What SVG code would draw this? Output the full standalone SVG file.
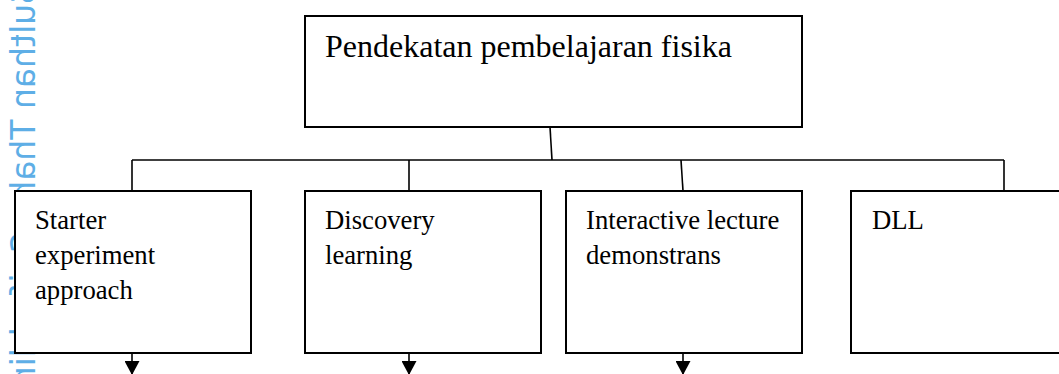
<svg xmlns="http://www.w3.org/2000/svg" width="1059" height="374" viewBox="0 0 1059 374">
  <style>
    .box { fill: #ffffff; stroke: #000000; stroke-width: 2; }
    .conn { fill: none; stroke: #000000; stroke-width: 1.6; }
    .lbl { font-family: "Liberation Serif", "Times New Roman", serif; font-size: 26.7px; fill: #000000; }
    .title { font-family: "Liberation Serif", "Times New Roman", serif; font-size: 32px; fill: #000000; }
    .wm { font-family: "DejaVu Sans", sans-serif; font-size: 33px; fill: #5eaee6; }
  </style>
  <defs>
    <marker id="arrow" markerUnits="userSpaceOnUse" viewBox="0 0 14 15" refX="14" refY="7.5" markerWidth="14" markerHeight="15" orient="auto">
      <path d="M0,0 L14,7.5 L0,15 Z" fill="#000000"/>
    </marker>
  </defs>
  <rect x="0" y="0" width="1059" height="374" fill="#ffffff"/>
  <g id="watermark">
    <text class="wm" transform="matrix(0,1,1,0,35,-17)">Sulthan Thaha Saifuddin</text>
  </g>
  <g id="connectors">
    <path class="conn" d="M550,127 L552,160"/>
    <path class="conn" d="M132,160 L1004,160"/>
    <path class="conn" d="M132,160 L132,191"/>
    <path class="conn" d="M409,160 L409,191"/>
    <path class="conn" d="M681,160 L683,191"/>
    <path class="conn" d="M1004,160 L1004,191"/>
    <line class="conn" x1="132" y1="353" x2="132" y2="375" marker-end="url(#arrow)"/>
    <line class="conn" x1="409" y1="353" x2="409" y2="375" marker-end="url(#arrow)"/>
    <line class="conn" x1="683" y1="353" x2="683" y2="375" marker-end="url(#arrow)"/>
  </g>
  <g id="node-root">
    <rect class="box" x="305" y="16" width="497" height="111"/>
    <text class="title" x="325" y="57">Pendekatan pembelajaran fisika</text>
  </g>
  <g id="node-starter">
    <rect class="box" x="15" y="191" width="236" height="162"/>
    <text class="lbl" x="35" y="229">Starter</text>
    <text class="lbl" x="35" y="264">experiment</text>
    <text class="lbl" x="35" y="299">approach</text>
  </g>
  <g id="node-discovery">
    <rect class="box" x="305" y="191" width="236" height="162"/>
    <text class="lbl" x="325" y="229">Discovery</text>
    <text class="lbl" x="325" y="264">learning</text>
  </g>
  <g id="node-interactive">
    <rect class="box" x="566" y="191" width="236" height="162"/>
    <text class="lbl" x="586" y="229">Interactive lecture</text>
    <text class="lbl" x="586" y="264">demonstrans</text>
  </g>
  <g id="node-dll">
    <rect class="box" x="851" y="191" width="236" height="162"/>
    <text class="lbl" x="872" y="229">DLL</text>
  </g>
</svg>
